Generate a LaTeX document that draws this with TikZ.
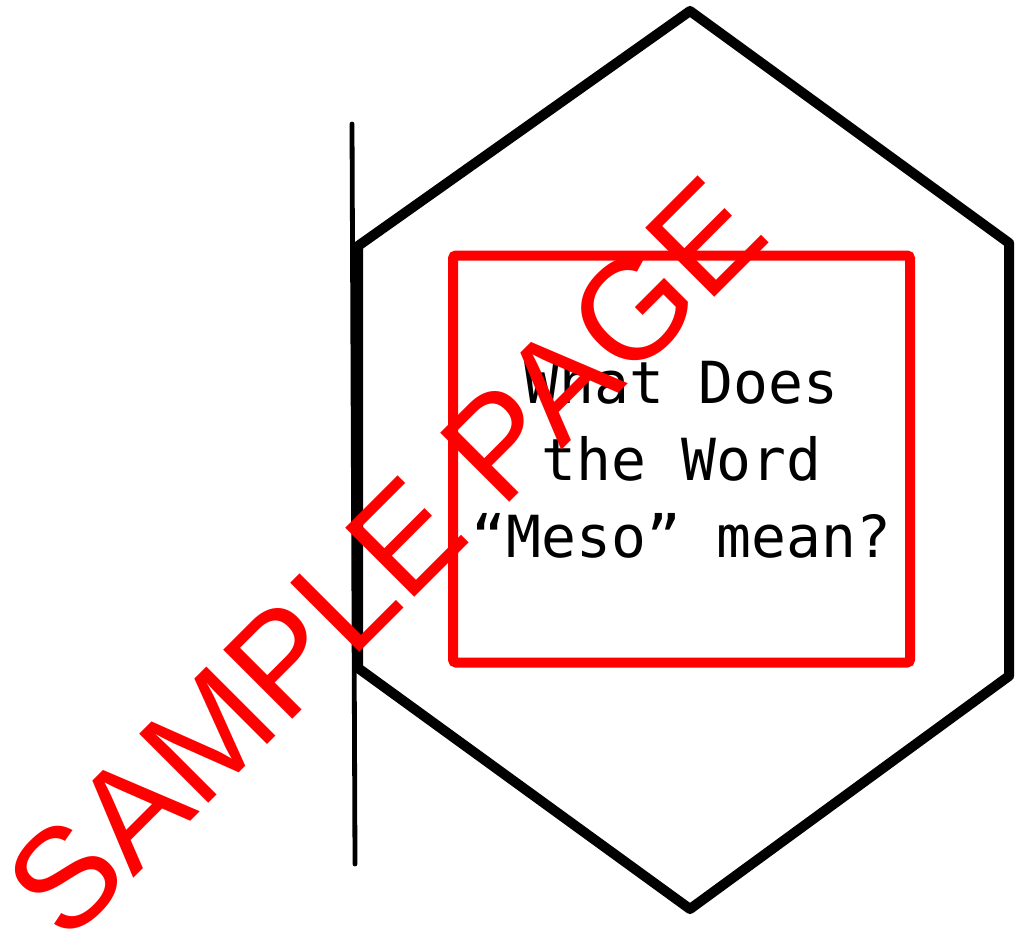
\documentclass[tikz,border=0pt]{standalone}
\usepackage{fontspec}
\newfontfamily\questionfont{DejaVu Sans Mono}
\newfontfamily\stampfont{Liberation Sans}
\usepackage{tikz}

\begin{document}
\begin{tikzpicture}[
  x=0.5pt, y=-0.5pt,
  hexline/.style={draw=black, line width=5pt, line join=round},
  rule/.style={draw=black, line width=2.4pt, line cap=round},
  questionbox/.style={rectangle, draw=red, line width=5pt, rounded corners=1.5pt, minimum width=228.5pt, minimum height=203.5pt, align=center, inner sep=0pt, font=\questionfont\fontsize{29}{38.5}\selectfont},
  stamp/.style={text=red, rotate=45, anchor=base, inner sep=0pt, font=\stampfont\fontsize{71}{71}\selectfont}
]
\useasboundingbox (0,0) rectangle (1020,931);

% Hexagon
\coordinate (hex_top) at (690,11);
\coordinate (hex_ur) at (1009,243);
\coordinate (hex_lr) at (1009,676);
\coordinate (hex_bot) at (690,909);
\coordinate (hex_ll) at (358,668);
\coordinate (hex_ul) at (358,246);
\draw[hexline] (hex_top) -- (hex_ur) -- (hex_lr) -- (hex_bot) -- (hex_ll) -- (hex_ul) -- cycle;

% Vertical rule
\coordinate (rule_top) at (352,124);
\coordinate (rule_bot) at (355,864);
\draw[rule] (rule_top) -- (rule_bot);

% Question
\node[questionbox] (question) at (681.5,459) {What Does\\the Word\\“Meso” mean?};

% Watermark
\node[stamp] (watermark) at (420,592) {SAMPLE PAGE};

\end{tikzpicture}
\end{document}
